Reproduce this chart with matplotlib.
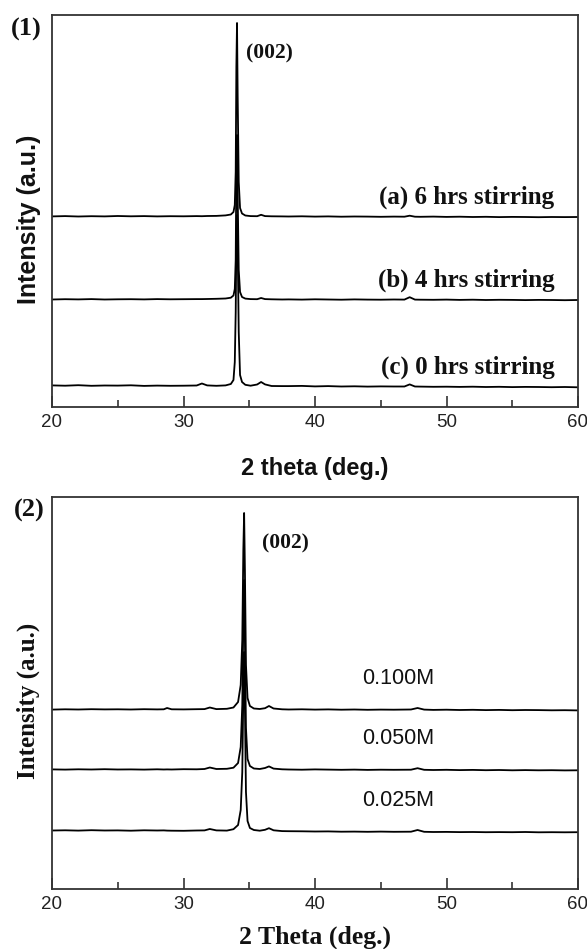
import matplotlib
matplotlib.use("Agg")
import matplotlib.pyplot as plt
from matplotlib.ticker import MultipleLocator

# ---------------- data ----------------
# Panel (1): 2-theta grid shared by the three stirring-time patterns
TT1 = [20, 21, 22, 23, 24, 25, 26, 27, 28, 29, 30, 31,
       31.4, 31.8, 32.5, 33.2,
       33.6, 33.8, 33.9, 33.97, 34.02, 34.07, 34.12, 34.2, 34.3, 34.45, 34.7,
       35.1, 35.6, 35.9, 36.2, 36.7, 37.5,
       38, 39, 40, 41, 42, 43, 44, 45, 46,
       46.8, 47.2, 47.6,
       48, 49, 50, 51, 52, 53, 54, 55, 56, 57, 58, 59, 60]

I_6h = [0.6, 0.9, 0.5, 0.8, 0.6, 1.0, 0.7, 0.9, 0.6, 0.8, 0.7, 0.9,
        0.8, 1.0, 1.1, 1.6,
        2.5, 5, 12, 45, 150, 194, 120, 35, 9, 3.5, 1.5,
        0.9, 0.8, 2.2, 0.9, 0.7, 0.6,
        0.5, 0.7, 0.4, 0.6, 0.3, 0.5, 0.4, 0.2, 0.4,
        0.3, 1.3, 0.3,
        0.2, 0.4, 0.1, 0.3, 0.0, 0.2, -0.1, 0.1, 0.0, -0.2, 0.0, -0.1, 0.0]

I_4h = [0.5, 0.8, 0.6, 0.9, 0.5, 0.7, 0.8, 0.6, 0.9, 0.7, 0.8, 0.9,
        0.9, 1.0, 1.2, 1.5,
        2.3, 4.5, 11, 40, 135, 165, 105, 30, 8, 3, 1.4,
        0.9, 0.8, 2.0, 0.9, 0.7, 0.5,
        0.6, 0.4, 0.7, 0.5, 0.3, 0.6, 0.4, 0.3, 0.5,
        0.4, 2.8, 0.4,
        0.3, 0.2, 0.4, 0.1, 0.3, 0.0, 0.2, 0.1, -0.1, 0.1, 0.0, -0.2, 0.0]

I_0h = [1.6, 1.3, 1.8, 1.2, 1.5, 1.4, 1.7, 1.1, 1.4, 1.2, 1.3, 1.5,
        3.5, 1.6, 1.2, 1.6,
        3, 7, 25, 75, 150, 172, 140, 55, 12, 5, 2.2,
        1.3, 2.5, 5.0, 2.6, 1.0, 0.9,
        0.9, 1.1, 0.6, 0.9, 0.5, 0.7, 0.4, 0.6, 0.5,
        0.5, 2.6, 0.5,
        0.4, 0.2, 0.3, 0.1, 0.3, 0.0, 0.2, -0.1, 0.1, 0.0, -0.2, 0.0, -0.3]

LABELS1 = ["(a) 6 hrs stirring", "(b) 4 hrs stirring", "(c) 0 hrs stirring"]
OFFSETS1 = [190, 107, 20]

# Panel (2): 2-theta grid shared by the three concentration patterns
TT2 = [20, 21, 22, 23, 24, 25, 26, 27, 28,
       28.5, 28.75, 29.1, 30, 31, 31.6, 32.0, 32.5, 33.3,
       33.8, 34.15, 34.35, 34.47, 34.55, 34.61, 34.67, 34.75, 34.87, 35.05, 35.35,
       35.8, 36.2, 36.5, 36.85, 37.5,
       38, 39, 40, 41, 42, 43, 44, 45, 46,
       47.3, 47.8, 48.3,
       49, 50, 51, 52, 53, 54, 55, 56, 57, 58, 59, 60]

I_100 = [0.4, 0.7, 0.5, 0.8, 0.6, 0.7, 0.5, 0.8, 0.6,
         0.7, 2.0, 0.7, 0.6, 0.8, 0.9, 2.5, 0.9, 1.2,
         2.5, 8, 25, 70, 160, 197, 140, 45, 12, 4, 1.5,
         1.0, 1.8, 4.0, 1.5, 0.7,
         0.5, 0.7, 0.4, 0.6, 0.3, 0.5, 0.2, 0.4, 0.3,
         0.5, 2.0, 0.4,
         0.1, 0.3, 0.0, 0.2, -0.1, 0.1, -0.2, 0.0, -0.1, -0.3, -0.2, -0.4]

I_050 = [0.6, 0.4, 0.7, 0.5, 0.8, 0.5, 0.6, 0.4, 0.7,
         0.5, 0.6, 0.5, 0.8, 0.7, 1.0, 2.5, 1.0, 1.2,
         2.3, 7, 23, 65, 150, 190, 130, 42, 11, 4, 1.5,
         1.0, 2.0, 3.6, 1.4, 0.7,
         0.5, 0.3, 0.6, 0.4, 0.2, 0.4, 0.1, 0.3, 0.2,
         0.3, 1.8, 0.2,
         0.0, 0.2, -0.1, 0.1, -0.2, 0.0, -0.3, -0.1, -0.3, -0.2, -0.4, -0.3]

I_025 = [1.5, 1.7, 1.4, 1.8, 1.5, 1.6, 1.3, 1.7, 1.5,
         1.6, 1.4, 1.3, 1.2, 1.5, 1.6, 3.0, 1.6, 1.4,
         2.8, 7, 22, 60, 140, 180, 125, 40, 11, 4, 2.0,
         1.3, 2.2, 3.8, 1.7, 0.9,
         0.8, 0.7, 0.5, 0.6, 0.3, 0.4, 0.2, 0.4, 0.2,
         0.3, 2.0, 0.2,
         0.0, 0.1, -0.1, 0.0, -0.2, -0.1, -0.2, 0.0, -0.3, -0.2, -0.3, -0.2]

LABELS2 = ["0.100M", "0.050M", "0.025M"]
OFFSETS2 = [179, 119, 57]

XTICKS = [20, 30, 40, 50, 60]

# ---------------- figure ----------------
fig = plt.figure(figsize=(5.87, 9.49), dpi=100)
W, H = 587, 949

def axes_px(x0, y0, x1, y1):
    return fig.add_axes([x0 / W, 1 - y1 / H, (x1 - x0) / W, (y1 - y0) / H])

ax1 = axes_px(52, 15, 578, 407)
ax2 = axes_px(52, 497, 578, 889)

SERIF = ["Liberation Serif", "DejaVu Serif"]
SANS = ["Liberation Sans", "DejaVu Sans"]

for ax in (ax1, ax2):
    ax.set_xlim(20, 60)
    ax.set_ylim(0, 392)
    ax.set_xticks(XTICKS)
    ax.xaxis.set_minor_locator(MultipleLocator(5))
    ax.tick_params(axis="x", which="major", direction="in", length=8, width=1.2,
                   color="#333333", labelsize=13.5, pad=5, top=False)
    ax.tick_params(axis="x", which="minor", direction="in", length=5, width=1.2,
                   color="#333333", top=False)
    ax.tick_params(axis="y", left=False, labelleft=False)
    for lab in ax.get_xticklabels():
        lab.set_family(SANS)
        lab.set_color("#222222")
    for sp in ax.spines.values():
        sp.set_linewidth(1.3)
        sp.set_color("#333333")

# panel 1 curves
for I, off in zip([I_6h, I_4h, I_0h], OFFSETS1):
    ax1.plot(TT1, [v + off for v in I], color="black", lw=1.3)
for lab, off in zip(LABELS1, OFFSETS1):
    ax1.text(58.2, off + 20, lab, ha="right", va="center", family=SERIF,
             fontweight="bold", fontsize=18, color="#111111")
ax1.text(34.75, 354, "(002)", ha="left", va="center", family=SERIF,
         fontweight="bold", fontsize=15.5, color="#111111")
ax1.set_xlabel("2 theta (deg.)", family=SANS, fontweight="bold", fontsize=17,
               color="#111111")
ax1.xaxis.set_label_coords(0.5, -(469 - 407) / 392)
ax1.xaxis.label.set_verticalalignment("center")
ax1.set_ylabel("Intensity (a.u.)", family=SANS, fontweight="bold", fontsize=18,
               color="#111111")
ax1.yaxis.set_label_coords(-(52 - 29) / 526, 0.48)
ax1.yaxis.label.set_verticalalignment("center")

# panel 2 curves
for I, off in zip([I_100, I_050, I_025], OFFSETS2):
    ax2.plot(TT2, [v + off for v in I], color="black", lw=1.3)
for lab, off in zip(LABELS2, OFFSETS2):
    ax2.text(46.35, off + 32, lab, ha="center", va="center", family=SANS,
             fontsize=15.5, color="#111111")
ax2.text(35.97, 346, "(002)", ha="left", va="center", family=SERIF,
         fontweight="bold", fontsize=15.5, color="#111111")
ax2.set_xlabel("2 Theta (deg.)", family=SERIF, fontweight="bold", fontsize=18.5,
               color="#111111")
ax2.xaxis.set_label_coords(0.5, -(937 - 889) / 392)
ax2.xaxis.label.set_verticalalignment("center")
ax2.set_ylabel("Intensity (a.u.)", family=SERIF, fontweight="bold", fontsize=18,
               color="#111111")
ax2.yaxis.set_label_coords(-(52 - 28) / 526, 0.48)
ax2.yaxis.label.set_verticalalignment("center")

fig.text(26.5 / W, 1 - 29 / H, "(1)", ha="center", va="center", family=SERIF,
         fontweight="bold", fontsize=19, color="#111111")
fig.text(29 / W, 1 - 510 / H, "(2)", ha="center", va="center", family=SERIF,
         fontweight="bold", fontsize=19, color="#111111")

fig.savefig("out.png", dpi=100)
